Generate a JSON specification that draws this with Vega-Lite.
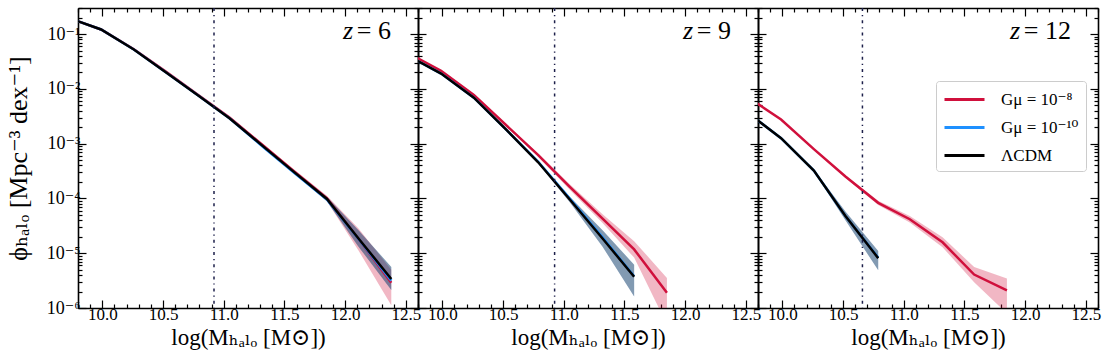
{
  "$schema": "https://vega.github.io/schema/vega-lite/v6.json",
  "padding": {"left": 5, "top": 7, "right": 8, "bottom": 4},
  "background": "white",
  "spacing": 0,
  "bounds": "flush",
  "config": {
    "view": {"stroke": null},
    "axis": {
      "domainColor": "black", "domainWidth": 1.6, "tickColor": "black", "tickWidth": 1.2,
      "labelFont": "Liberation Serif, DejaVu Serif", "labelFontSize": 17, "labelColor": "black",
      "titleFont": "Liberation Serif, DejaVu Serif, DejaVu Sans", "titleFontSize": 23, "titleFontWeight": "normal", "titleColor": "black",
      "grid": false, "labelOverlap": false, "labelFlush": false, "labelBound": false
    }
  },
  "resolve": {"scale": {"color": "independent"}, "legend": {"color": "independent"}},
  "datasets": {
    "phi": [
      {"z":6,"model":"Gμ = 10⁻⁸","m":9.73,"phi":0.195,"lo":0.1905,"hi":0.1995},
      {"z":6,"model":"Gμ = 10⁻⁸","m":9.99,"phi":0.1216,"lo":0.1189,"hi":0.1245},
      {"z":6,"model":"Gμ = 10⁻⁸","m":10.26,"phi":0.0531,"lo":0.05188,"hi":0.05433},
      {"z":6,"model":"Gμ = 10⁻⁸","m":10.52,"phi":0.02089,"lo":0.02042,"hi":0.02138},
      {"z":6,"model":"Gμ = 10⁻⁸","m":10.79,"phi":0.007762,"lo":0.007586,"hi":0.007943},
      {"z":6,"model":"Gμ = 10⁻⁸","m":11.05,"phi":0.002985,"lo":0.002884,"hi":0.00309},
      {"z":6,"model":"Gμ = 10⁻⁸","m":11.32,"phi":9.44e-4,"lo":8.91e-4,"hi":1.0e-3},
      {"z":6,"model":"Gμ = 10⁻⁸","m":11.58,"phi":3.126e-4,"lo":2.884e-4,"hi":3.388e-4},
      {"z":6,"model":"Gμ = 10⁻⁸","m":11.85,"phi":1.0e-4,"lo":8.91e-5,"hi":1.122e-4},
      {"z":6,"model":"Gμ = 10⁻⁸","m":12.11,"phi":1.82e-5,"lo":1.122e-5,"hi":2.818e-5},
      {"z":6,"model":"Gμ = 10⁻⁸","m":12.38,"phi":2.884e-6,"lo":1.122e-6,"hi":5.012e-6},
      {"z":6,"model":"Gμ = 10⁻¹⁰","m":9.73,"phi":0.195,"lo":0.1905,"hi":0.1995},
      {"z":6,"model":"Gμ = 10⁻¹⁰","m":9.99,"phi":0.1216,"lo":0.1189,"hi":0.1245},
      {"z":6,"model":"Gμ = 10⁻¹⁰","m":10.26,"phi":0.05248,"lo":0.05129,"hi":0.0537},
      {"z":6,"model":"Gμ = 10⁻¹⁰","m":10.52,"phi":0.02042,"lo":0.01995,"hi":0.02089},
      {"z":6,"model":"Gμ = 10⁻¹⁰","m":10.79,"phi":0.007586,"lo":0.007413,"hi":0.007762},
      {"z":6,"model":"Gμ = 10⁻¹⁰","m":11.05,"phi":0.002884,"lo":0.002818,"hi":0.002951},
      {"z":6,"model":"Gμ = 10⁻¹⁰","m":11.32,"phi":8.91e-4,"lo":8.71e-4,"hi":9.55e-4},
      {"z":6,"model":"Gμ = 10⁻¹⁰","m":11.58,"phi":2.951e-4,"lo":2.818e-4,"hi":3.236e-4},
      {"z":6,"model":"Gμ = 10⁻¹⁰","m":11.85,"phi":9.55e-5,"lo":8.91e-5,"hi":1.072e-4},
      {"z":6,"model":"Gμ = 10⁻¹⁰","m":12.11,"phi":1.82e-5,"lo":1.318e-5,"hi":2.63e-5},
      {"z":6,"model":"Gμ = 10⁻¹⁰","m":12.38,"phi":3.162e-6,"lo":2.138e-6,"hi":5.623e-6},
      {"z":6,"model":"ΛCDM","m":9.73,"phi":0.195,"lo":0.1905,"hi":0.1995},
      {"z":6,"model":"ΛCDM","m":9.99,"phi":0.1216,"lo":0.1189,"hi":0.1245},
      {"z":6,"model":"ΛCDM","m":10.26,"phi":0.05248,"lo":0.05129,"hi":0.0537},
      {"z":6,"model":"ΛCDM","m":10.52,"phi":0.02042,"lo":0.01995,"hi":0.02089},
      {"z":6,"model":"ΛCDM","m":10.79,"phi":0.007586,"lo":0.007413,"hi":0.007762},
      {"z":6,"model":"ΛCDM","m":11.05,"phi":0.002884,"lo":0.002818,"hi":0.002951},
      {"z":6,"model":"ΛCDM","m":11.32,"phi":9.12e-4,"lo":8.71e-4,"hi":9.55e-4},
      {"z":6,"model":"ΛCDM","m":11.58,"phi":3.02e-4,"lo":2.818e-4,"hi":3.236e-4},
      {"z":6,"model":"ΛCDM","m":11.85,"phi":9.77e-5,"lo":8.91e-5,"hi":1.072e-4},
      {"z":6,"model":"ΛCDM","m":12.11,"phi":1.862e-5,"lo":1.318e-5,"hi":2.63e-5},
      {"z":6,"model":"ΛCDM","m":12.38,"phi":3.388e-6,"lo":2.138e-6,"hi":5.623e-6},

      {"z":9,"model":"Gμ = 10⁻⁸","m":9.73,"phi":0.04365,"lo":0.04266,"hi":0.04467},
      {"z":9,"model":"Gμ = 10⁻⁸","m":9.99,"phi":0.02138,"lo":0.02089,"hi":0.02188},
      {"z":9,"model":"Gμ = 10⁻⁸","m":10.26,"phi":0.007762,"lo":0.007586,"hi":0.007943},
      {"z":9,"model":"Gμ = 10⁻⁸","m":10.52,"phi":0.002239,"lo":0.002163,"hi":0.002317},
      {"z":9,"model":"Gμ = 10⁻⁸","m":10.79,"phi":6.166e-4,"lo":5.754e-4,"hi":6.607e-4},
      {"z":9,"model":"Gμ = 10⁻⁸","m":11.05,"phi":1.622e-4,"lo":1.445e-4,"hi":1.82e-4},
      {"z":9,"model":"Gμ = 10⁻⁸","m":11.32,"phi":4.266e-5,"lo":3.548e-5,"hi":5.129e-5},
      {"z":9,"model":"Gμ = 10⁻⁸","m":11.58,"phi":1.175e-5,"lo":8.318e-6,"hi":1.66e-5},
      {"z":9,"model":"Gμ = 10⁻⁸","m":11.85,"phi":1.905e-6,"lo":5.0e-7,"hi":3.548e-6},
      {"z":9,"model":"Gμ = 10⁻¹⁰","m":9.73,"phi":0.0389,"lo":0.03802,"hi":0.03981},
      {"z":9,"model":"Gμ = 10⁻¹⁰","m":9.99,"phi":0.01905,"lo":0.01862,"hi":0.0195},
      {"z":9,"model":"Gμ = 10⁻¹⁰","m":10.26,"phi":0.006918,"lo":0.006761,"hi":0.007079},
      {"z":9,"model":"Gμ = 10⁻¹⁰","m":10.52,"phi":0.001862,"lo":0.001799,"hi":0.001928},
      {"z":9,"model":"Gμ = 10⁻¹⁰","m":10.79,"phi":4.677e-4,"lo":4.365e-4,"hi":4.786e-4},
      {"z":9,"model":"Gμ = 10⁻¹⁰","m":11.05,"phi":1.0e-4,"lo":8.51e-5,"hi":1.072e-4},
      {"z":9,"model":"Gμ = 10⁻¹⁰","m":11.32,"phi":1.95e-5,"lo":1.318e-5,"hi":2.63e-5},
      {"z":9,"model":"Gμ = 10⁻¹⁰","m":11.58,"phi":3.802e-6,"lo":1.622e-6,"hi":6.166e-6},
      {"z":9,"model":"ΛCDM","m":9.73,"phi":0.0389,"lo":0.03802,"hi":0.03981},
      {"z":9,"model":"ΛCDM","m":9.99,"phi":0.01905,"lo":0.01862,"hi":0.0195},
      {"z":9,"model":"ΛCDM","m":10.26,"phi":0.006918,"lo":0.006761,"hi":0.007079},
      {"z":9,"model":"ΛCDM","m":10.52,"phi":0.001862,"lo":0.001799,"hi":0.001928},
      {"z":9,"model":"ΛCDM","m":10.79,"phi":4.571e-4,"lo":4.365e-4,"hi":4.786e-4},
      {"z":9,"model":"ΛCDM","m":11.05,"phi":9.55e-5,"lo":8.51e-5,"hi":1.072e-4},
      {"z":9,"model":"ΛCDM","m":11.32,"phi":1.862e-5,"lo":1.318e-5,"hi":2.63e-5},
      {"z":9,"model":"ΛCDM","m":11.58,"phi":3.715e-6,"lo":1.622e-6,"hi":6.166e-6},

      {"z":12,"model":"Gμ = 10⁻⁸","m":9.73,"phi":0.006761,"lo":0.006607,"hi":0.006918},
      {"z":12,"model":"Gμ = 10⁻⁸","m":9.99,"phi":0.002754,"lo":0.002692,"hi":0.002818},
      {"z":12,"model":"Gμ = 10⁻⁸","m":10.26,"phi":7.943e-4,"lo":7.762e-4,"hi":8.128e-4},
      {"z":12,"model":"Gμ = 10⁻⁸","m":10.52,"phi":2.512e-4,"lo":2.399e-4,"hi":2.63e-4},
      {"z":12,"model":"Gμ = 10⁻⁸","m":10.79,"phi":8.318e-5,"lo":7.586e-5,"hi":9.12e-5},
      {"z":12,"model":"Gμ = 10⁻⁸","m":11.05,"phi":4.169e-5,"lo":3.631e-5,"hi":4.786e-5},
      {"z":12,"model":"Gμ = 10⁻⁸","m":11.32,"phi":1.585e-5,"lo":1.288e-5,"hi":1.95e-5},
      {"z":12,"model":"Gμ = 10⁻⁸","m":11.58,"phi":4.074e-6,"lo":2.951e-6,"hi":5.623e-6},
      {"z":12,"model":"Gμ = 10⁻⁸","m":11.85,"phi":2.089e-6,"lo":7.943e-7,"hi":3.467e-6},
      {"z":12,"model":"Gμ = 10⁻¹⁰","m":9.73,"phi":0.003467,"lo":0.003388,"hi":0.003548},
      {"z":12,"model":"Gμ = 10⁻¹⁰","m":9.99,"phi":0.001259,"lo":0.00123,"hi":0.001288},
      {"z":12,"model":"Gμ = 10⁻¹⁰","m":10.26,"phi":3.236e-4,"lo":3.09e-4,"hi":3.388e-4},
      {"z":12,"model":"Gμ = 10⁻¹⁰","m":10.52,"phi":4.786e-5,"lo":3.981e-5,"hi":5.754e-5},
      {"z":12,"model":"Gμ = 10⁻¹⁰","m":10.79,"phi":8.318e-6,"lo":4.898e-6,"hi":1.096e-5},
      {"z":12,"model":"ΛCDM","m":9.73,"phi":0.003467,"lo":0.003388,"hi":0.003548},
      {"z":12,"model":"ΛCDM","m":9.99,"phi":0.001259,"lo":0.00123,"hi":0.001288},
      {"z":12,"model":"ΛCDM","m":10.26,"phi":3.236e-4,"lo":3.09e-4,"hi":3.388e-4},
      {"z":12,"model":"ΛCDM","m":10.52,"phi":4.786e-5,"lo":3.981e-5,"hi":5.754e-5},
      {"z":12,"model":"ΛCDM","m":10.79,"phi":8.128e-6,"lo":4.898e-6,"hi":1.096e-5}
    ],
    "panels": [
      {"z":6,"cut":10.92,"eq":"= 6"},
      {"z":9,"cut":10.925,"eq":"= 9"},
      {"z":12,"cut":10.66,"eq":"= 12"}
    ]
  },
  "hconcat": [
    {
      "width": 340, "height": 300,
      "layer": [
        {
          "data": {"name": "phi"}, "transform": [{"filter": "datum.z == 6"}],
          "mark": {"type": "area", "fillOpacity": 0.3, "clip": true},
          "encoding": {
            "x": {"field": "m", "type": "quantitative", "scale": {"domain": [9.8, 12.6], "nice": false, "zero": false},
                  "axis": {"orient": "bottom", "values": [10.0,10.5,11.0,11.5,12.0,12.5], "tickSize": -8, "format": ".1f",
                           "labelPadding": 6, "title": "log(Mₕₐₗₒ [M⊙])", "titlePadding": 4}},
            "y": {"field": "lo", "type": "quantitative", "scale": {"type": "log", "domain": [1e-6, 0.3], "nice": false},
                  "axis": {"orient": "left", "values": [1e-6,1e-5,1e-4,0.001,0.01,0.1], "tickSize": -8, "labelFontSize": 18,
                           "labelExpr": "'10⁻' + ['⁰','¹','²','³','⁴','⁵','⁶','⁷'][-round(log(datum.value)/LN10)]",
                           "labelPadding": 6, "title": "ϕₕₐₗₒ [Mpc⁻³ dex⁻¹]", "titleFontSize": 26, "titlePadding": 15}},
            "y2": {"field": "hi"},
            "color": {"field": "model", "type": "nominal", "scale": {"domain": ["Gμ = 10⁻⁸", "Gμ = 10⁻¹⁰", "ΛCDM"], "range": ["#d0103c", "#1e90ff", "#000000"]}, "legend": null}
          }
        },
        {
          "data": {"name": "phi"}, "transform": [{"filter": "datum.z == 6"}],
          "mark": {"type": "line", "strokeWidth": 2.5, "clip": true},
          "encoding": {
            "x": {"field": "m", "type": "quantitative", "axis": {"orient": "top", "values": [10.0,10.5,11.0,11.5,12.0,12.5], "tickSize": -8, "labels": false, "title": null}},
            "y": {"field": "phi", "type": "quantitative", "axis": {"orient": "right", "values": [1e-6,1e-5,1e-4,0.001,0.01,0.1], "tickSize": -8, "labels": false, "title": null}},
            "color": {"field": "model", "type": "nominal", "legend": null}
          }
        },
        {
          "data": {"name": "phi"}, "transform": [{"filter": "datum.z == 6"}],
          "mark": {"type": "point", "opacity": 0, "size": 1},
          "encoding": {
            "x": {"field": "m", "type": "quantitative", "axis": {"orient": "bottom", "values": [9.8,9.9,10.1,10.2,10.3,10.4,10.6,10.7,10.8,10.9,11.1,11.2,11.3,11.4,11.6,11.7,11.8,11.9,12.1,12.2,12.3,12.4,12.6], "tickSize": -4, "labels": false, "title": null, "domain": false}},
            "y": {"field": "phi", "type": "quantitative", "axis": {"orient": "left", "values": [2e-6,3e-6,4e-6,5e-6,6e-6,7e-6,8e-6,9e-6,2e-5,3e-5,4e-5,5e-5,6e-5,7e-5,8e-5,9e-5,2e-4,3e-4,4e-4,5e-4,6e-4,7e-4,8e-4,9e-4,0.002,0.003,0.004,0.005,0.006,0.007,0.008,0.009,0.02,0.03,0.04,0.05,0.06,0.07,0.08,0.09,0.2,0.3], "tickSize": -4, "labels": false, "title": null, "domain": false}}
          }
        },
        {
          "data": {"name": "phi"}, "transform": [{"filter": "datum.z == 6"}],
          "mark": {"type": "point", "opacity": 0, "size": 1},
          "encoding": {
            "x": {"field": "m", "type": "quantitative", "axis": {"orient": "top", "values": [9.8,9.9,10.1,10.2,10.3,10.4,10.6,10.7,10.8,10.9,11.1,11.2,11.3,11.4,11.6,11.7,11.8,11.9,12.1,12.2,12.3,12.4,12.6], "tickSize": -4, "labels": false, "title": null, "domain": false}},
            "y": {"field": "phi", "type": "quantitative", "axis": {"orient": "right", "values": [2e-6,3e-6,4e-6,5e-6,6e-6,7e-6,8e-6,9e-6,2e-5,3e-5,4e-5,5e-5,6e-5,7e-5,8e-5,9e-5,2e-4,3e-4,4e-4,5e-4,6e-4,7e-4,8e-4,9e-4,0.002,0.003,0.004,0.005,0.006,0.007,0.008,0.009,0.02,0.03,0.04,0.05,0.06,0.07,0.08,0.09,0.2,0.3], "tickSize": -4, "labels": false, "title": null, "domain": false}}
          }
        },
        {
          "data": {"name": "panels"}, "transform": [{"filter": "datum.z == 6"}],
          "mark": {"type": "rule", "color": "#1c1f4a", "strokeWidth": 1.5, "strokeDash": [3, 4, 1.2, 4]},
          "encoding": {"x": {"field": "cut", "type": "quantitative", "axis": null}}
        },
        {
          "data": {"name": "panels"}, "transform": [{"filter": "datum.z == 6"}],
          "mark": {"type": "text", "align": "right", "baseline": "middle", "font": "Liberation Serif", "fontSize": 26, "color": "black"},
          "encoding": {"x": {"datum": 12.378, "type": "quantitative", "axis": null}, "y": {"datum": 0.112, "type": "quantitative", "axis": null}, "text": {"field": "eq"}}
        },
        {
          "data": {"name": "panels"}, "transform": [{"filter": "datum.z == 6"}],
          "mark": {"type": "text", "align": "right", "baseline": "middle", "font": "Liberation Serif", "fontSize": 26, "fontStyle": "italic", "color": "black", "dx": -38},
          "encoding": {"x": {"datum": 12.378, "type": "quantitative", "axis": null}, "y": {"datum": 0.112, "type": "quantitative", "axis": null}, "text": {"value": "z"}}
        }
      ],
      "resolve": {"axis": {"x": "independent", "y": "independent"}}
    },
    {
      "width": 340, "height": 300,
      "layer": [
        {
          "data": {"name": "phi"}, "transform": [{"filter": "datum.z == 9"}],
          "mark": {"type": "area", "fillOpacity": 0.3, "clip": true},
          "encoding": {
            "x": {"field": "m", "type": "quantitative", "scale": {"domain": [9.8, 12.6], "nice": false, "zero": false},
                  "axis": {"orient": "bottom", "values": [10.0,10.5,11.0,11.5,12.0,12.5], "tickSize": -8, "format": ".1f",
                           "labelPadding": 6, "title": "log(Mₕₐₗₒ [M⊙])", "titlePadding": 4}},
            "y": {"field": "lo", "type": "quantitative", "scale": {"type": "log", "domain": [1e-6, 0.3], "nice": false},
                  "axis": {"orient": "left", "values": [1e-6,1e-5,1e-4,0.001,0.01,0.1], "tickSize": -8, "labels": false, "title": null}},
            "y2": {"field": "hi"},
            "color": {"field": "model", "type": "nominal", "scale": {"domain": ["Gμ = 10⁻⁸", "Gμ = 10⁻¹⁰", "ΛCDM"], "range": ["#d0103c", "#1e90ff", "#000000"]}, "legend": null}
          }
        },
        {
          "data": {"name": "phi"}, "transform": [{"filter": "datum.z == 9"}],
          "mark": {"type": "line", "strokeWidth": 2.5, "clip": true},
          "encoding": {
            "x": {"field": "m", "type": "quantitative", "axis": {"orient": "top", "values": [10.0,10.5,11.0,11.5,12.0,12.5], "tickSize": -8, "labels": false, "title": null}},
            "y": {"field": "phi", "type": "quantitative", "axis": {"orient": "right", "values": [1e-6,1e-5,1e-4,0.001,0.01,0.1], "tickSize": -8, "labels": false, "title": null}},
            "color": {"field": "model", "type": "nominal", "legend": null}
          }
        },
        {
          "data": {"name": "phi"}, "transform": [{"filter": "datum.z == 9"}],
          "mark": {"type": "point", "opacity": 0, "size": 1},
          "encoding": {
            "x": {"field": "m", "type": "quantitative", "axis": {"orient": "bottom", "values": [9.8,9.9,10.1,10.2,10.3,10.4,10.6,10.7,10.8,10.9,11.1,11.2,11.3,11.4,11.6,11.7,11.8,11.9,12.1,12.2,12.3,12.4,12.6], "tickSize": -4, "labels": false, "title": null, "domain": false}},
            "y": {"field": "phi", "type": "quantitative", "axis": {"orient": "left", "values": [2e-6,3e-6,4e-6,5e-6,6e-6,7e-6,8e-6,9e-6,2e-5,3e-5,4e-5,5e-5,6e-5,7e-5,8e-5,9e-5,2e-4,3e-4,4e-4,5e-4,6e-4,7e-4,8e-4,9e-4,0.002,0.003,0.004,0.005,0.006,0.007,0.008,0.009,0.02,0.03,0.04,0.05,0.06,0.07,0.08,0.09,0.2,0.3], "tickSize": -4, "labels": false, "title": null, "domain": false}}
          }
        },
        {
          "data": {"name": "phi"}, "transform": [{"filter": "datum.z == 9"}],
          "mark": {"type": "point", "opacity": 0, "size": 1},
          "encoding": {
            "x": {"field": "m", "type": "quantitative", "axis": {"orient": "top", "values": [9.8,9.9,10.1,10.2,10.3,10.4,10.6,10.7,10.8,10.9,11.1,11.2,11.3,11.4,11.6,11.7,11.8,11.9,12.1,12.2,12.3,12.4,12.6], "tickSize": -4, "labels": false, "title": null, "domain": false}},
            "y": {"field": "phi", "type": "quantitative", "axis": {"orient": "right", "values": [2e-6,3e-6,4e-6,5e-6,6e-6,7e-6,8e-6,9e-6,2e-5,3e-5,4e-5,5e-5,6e-5,7e-5,8e-5,9e-5,2e-4,3e-4,4e-4,5e-4,6e-4,7e-4,8e-4,9e-4,0.002,0.003,0.004,0.005,0.006,0.007,0.008,0.009,0.02,0.03,0.04,0.05,0.06,0.07,0.08,0.09,0.2,0.3], "tickSize": -4, "labels": false, "title": null, "domain": false}}
          }
        },
        {
          "data": {"name": "panels"}, "transform": [{"filter": "datum.z == 9"}],
          "mark": {"type": "rule", "color": "#1c1f4a", "strokeWidth": 1.5, "strokeDash": [3, 4, 1.2, 4]},
          "encoding": {"x": {"field": "cut", "type": "quantitative", "axis": null}}
        },
        {
          "data": {"name": "panels"}, "transform": [{"filter": "datum.z == 9"}],
          "mark": {"type": "text", "align": "right", "baseline": "middle", "font": "Liberation Serif", "fontSize": 26, "color": "black"},
          "encoding": {"x": {"datum": 12.378, "type": "quantitative", "axis": null}, "y": {"datum": 0.112, "type": "quantitative", "axis": null}, "text": {"field": "eq"}}
        },
        {
          "data": {"name": "panels"}, "transform": [{"filter": "datum.z == 9"}],
          "mark": {"type": "text", "align": "right", "baseline": "middle", "font": "Liberation Serif", "fontSize": 26, "fontStyle": "italic", "color": "black", "dx": -38},
          "encoding": {"x": {"datum": 12.378, "type": "quantitative", "axis": null}, "y": {"datum": 0.112, "type": "quantitative", "axis": null}, "text": {"value": "z"}}
        }
      ],
      "resolve": {"axis": {"x": "independent", "y": "independent"}}
    },
    {
      "width": 340, "height": 300,
      "layer": [
        {
          "data": {"name": "phi"}, "transform": [{"filter": "datum.z == 12"}],
          "mark": {"type": "area", "fillOpacity": 0.3, "clip": true},
          "encoding": {
            "x": {"field": "m", "type": "quantitative", "scale": {"domain": [9.8, 12.6], "nice": false, "zero": false},
                  "axis": {"orient": "bottom", "values": [10.0,10.5,11.0,11.5,12.0,12.5], "tickSize": -8, "format": ".1f",
                           "labelPadding": 6, "title": "log(Mₕₐₗₒ [M⊙])", "titlePadding": 4}},
            "y": {"field": "lo", "type": "quantitative", "scale": {"type": "log", "domain": [1e-6, 0.3], "nice": false},
                  "axis": {"orient": "left", "values": [1e-6,1e-5,1e-4,0.001,0.01,0.1], "tickSize": -8, "labels": false, "title": null}},
            "y2": {"field": "hi"},
            "color": {"field": "model", "type": "nominal", "scale": {"domain": ["Gμ = 10⁻⁸", "Gμ = 10⁻¹⁰", "ΛCDM"], "range": ["#d0103c", "#1e90ff", "#000000"]}}
          }
        },
        {
          "data": {"name": "phi"}, "transform": [{"filter": "datum.z == 12"}],
          "mark": {"type": "line", "strokeWidth": 2.5, "clip": true},
          "encoding": {
            "x": {"field": "m", "type": "quantitative", "axis": {"orient": "top", "values": [10.0,10.5,11.0,11.5,12.0,12.5], "tickSize": -8, "labels": false, "title": null}},
            "y": {"field": "phi", "type": "quantitative", "axis": {"orient": "right", "values": [1e-6,1e-5,1e-4,0.001,0.01,0.1], "tickSize": -8, "labels": false, "title": null}},
            "color": {"field": "model", "type": "nominal",
                      "legend": {"orient": "none", "legendX": 178, "legendY": 73, "title": null, "symbolType": "M-1,0H3", "symbolStrokeWidth": 3, "symbolSize": 400, "symbolOpacity": 1,
                                 "labelFont": "Liberation Serif, DejaVu Serif", "labelFontSize": 17, "labelColor": "black", "labelOffset": 35,
                                 "fillColor": "white", "strokeColor": "#cccccc", "cornerRadius": 3, "padding": 7, "rowPadding": 8}}
          }
        },
        {
          "data": {"name": "phi"}, "transform": [{"filter": "datum.z == 12"}],
          "mark": {"type": "point", "opacity": 0, "size": 1},
          "encoding": {
            "x": {"field": "m", "type": "quantitative", "axis": {"orient": "bottom", "values": [9.8,9.9,10.1,10.2,10.3,10.4,10.6,10.7,10.8,10.9,11.1,11.2,11.3,11.4,11.6,11.7,11.8,11.9,12.1,12.2,12.3,12.4,12.6], "tickSize": -4, "labels": false, "title": null, "domain": false}},
            "y": {"field": "phi", "type": "quantitative", "axis": {"orient": "left", "values": [2e-6,3e-6,4e-6,5e-6,6e-6,7e-6,8e-6,9e-6,2e-5,3e-5,4e-5,5e-5,6e-5,7e-5,8e-5,9e-5,2e-4,3e-4,4e-4,5e-4,6e-4,7e-4,8e-4,9e-4,0.002,0.003,0.004,0.005,0.006,0.007,0.008,0.009,0.02,0.03,0.04,0.05,0.06,0.07,0.08,0.09,0.2,0.3], "tickSize": -4, "labels": false, "title": null, "domain": false}}
          }
        },
        {
          "data": {"name": "phi"}, "transform": [{"filter": "datum.z == 12"}],
          "mark": {"type": "point", "opacity": 0, "size": 1},
          "encoding": {
            "x": {"field": "m", "type": "quantitative", "axis": {"orient": "top", "values": [9.8,9.9,10.1,10.2,10.3,10.4,10.6,10.7,10.8,10.9,11.1,11.2,11.3,11.4,11.6,11.7,11.8,11.9,12.1,12.2,12.3,12.4,12.6], "tickSize": -4, "labels": false, "title": null, "domain": false}},
            "y": {"field": "phi", "type": "quantitative", "axis": {"orient": "right", "values": [2e-6,3e-6,4e-6,5e-6,6e-6,7e-6,8e-6,9e-6,2e-5,3e-5,4e-5,5e-5,6e-5,7e-5,8e-5,9e-5,2e-4,3e-4,4e-4,5e-4,6e-4,7e-4,8e-4,9e-4,0.002,0.003,0.004,0.005,0.006,0.007,0.008,0.009,0.02,0.03,0.04,0.05,0.06,0.07,0.08,0.09,0.2,0.3], "tickSize": -4, "labels": false, "title": null, "domain": false}}
          }
        },
        {
          "data": {"name": "panels"}, "transform": [{"filter": "datum.z == 12"}],
          "mark": {"type": "rule", "color": "#1c1f4a", "strokeWidth": 1.5, "strokeDash": [3, 4, 1.2, 4]},
          "encoding": {"x": {"field": "cut", "type": "quantitative", "axis": null}}
        },
        {
          "data": {"name": "panels"}, "transform": [{"filter": "datum.z == 12"}],
          "mark": {"type": "text", "align": "right", "baseline": "middle", "font": "Liberation Serif", "fontSize": 26, "color": "black"},
          "encoding": {"x": {"datum": 12.378, "type": "quantitative", "axis": null}, "y": {"datum": 0.112, "type": "quantitative", "axis": null}, "text": {"field": "eq"}}
        },
        {
          "data": {"name": "panels"}, "transform": [{"filter": "datum.z == 12"}],
          "mark": {"type": "text", "align": "right", "baseline": "middle", "font": "Liberation Serif", "fontSize": 26, "fontStyle": "italic", "color": "black", "dx": -51},
          "encoding": {"x": {"datum": 12.378, "type": "quantitative", "axis": null}, "y": {"datum": 0.112, "type": "quantitative", "axis": null}, "text": {"value": "z"}}
        }
      ],
      "resolve": {"axis": {"x": "independent", "y": "independent"}}
    }
  ]
}
